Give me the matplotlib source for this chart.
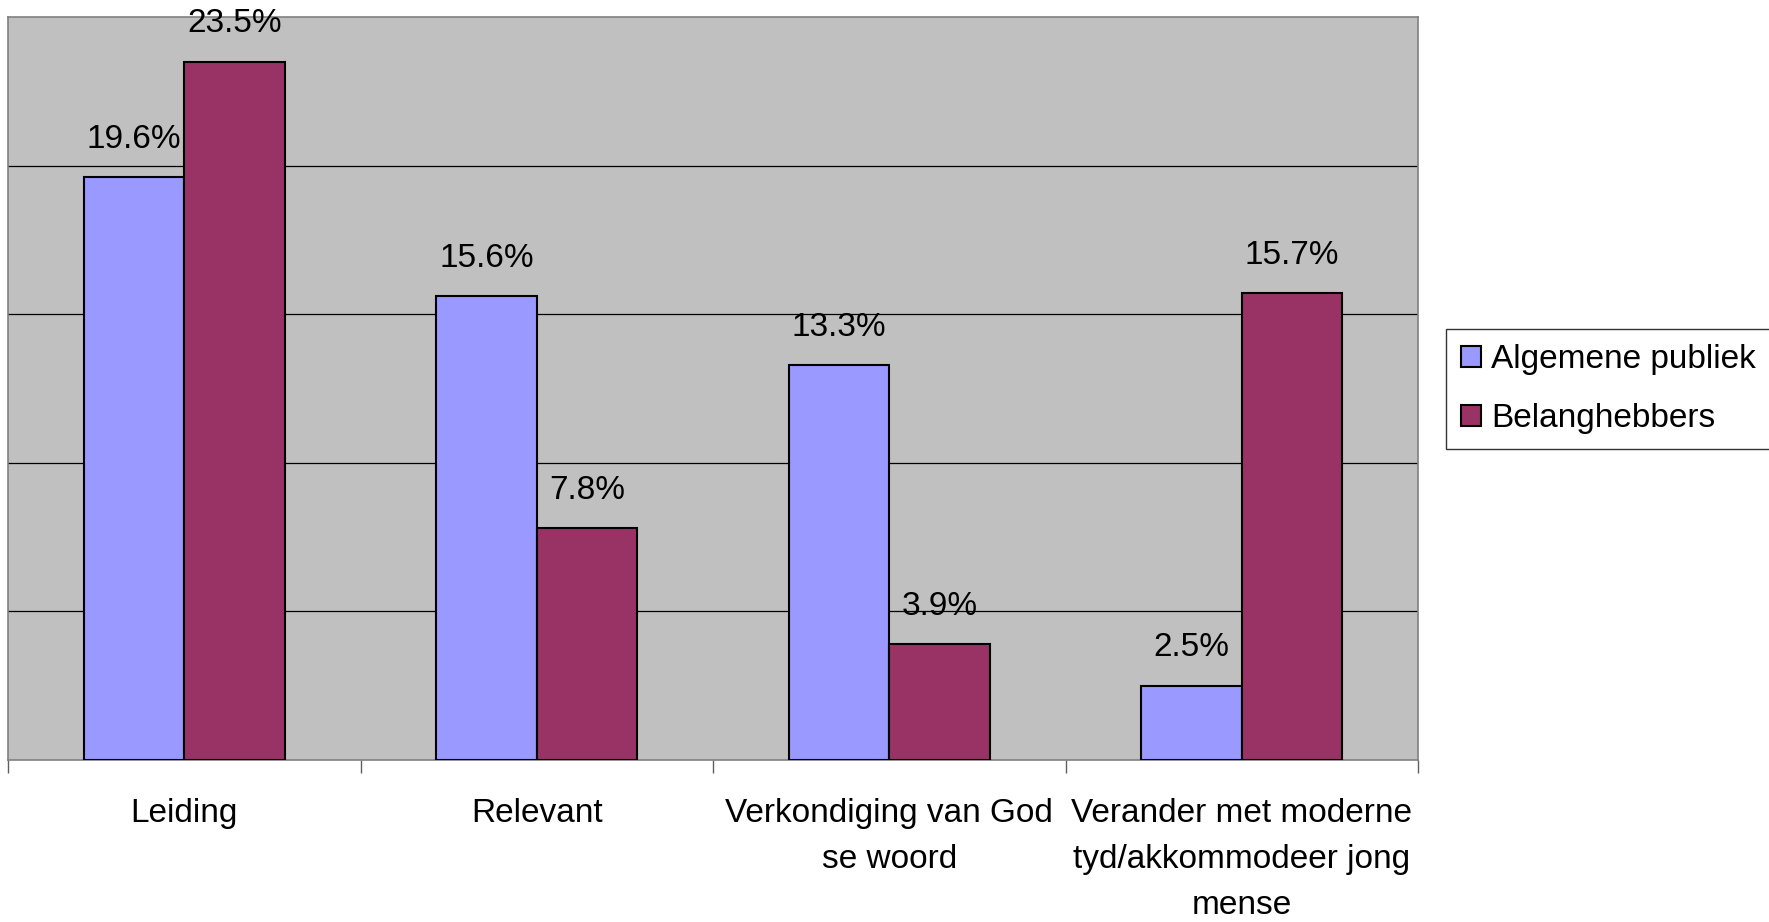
import matplotlib.pyplot as plt
import numpy as np

categories = [
    "Leiding",
    "Relevant",
    "Verkondiging van God\nse woord",
    "Verander met moderne\ntyd/akkommodeer jong\nmense",
]
series_names = ["Algemene publiek", "Belanghebbers"]
algemene = [19.6, 15.6, 13.3, 2.5]
belang = [23.5, 7.8, 3.9, 15.7]

plt.rcParams["font.family"] = ["Liberation Sans", "DejaVu Sans"]

W, H = 1769, 922
fig = plt.figure(figsize=(W / 100, H / 100), dpi=100)
ax = fig.add_axes([8 / W, (H - 760) / H, 1410 / W, 743 / H])
ax.set_facecolor("#C0C0C0")

x = np.arange(len(categories))
w = 1 / 3.5
b1 = ax.bar(x - w / 2, algemene, w, color="#9999FF", edgecolor="black",
            linewidth=1.5, label=series_names[0], zorder=3)
b2 = ax.bar(x + w / 2, belang, w, color="#993366", edgecolor="black",
            linewidth=1.5, label=series_names[1], zorder=3)

for bars, vals in ((b1, algemene), (b2, belang)):
    for r, v in zip(bars, vals):
        ax.annotate(f"{v:.1f}%", (r.get_x() + r.get_width() / 2, v),
                    xytext=(0, 16), textcoords="offset points",
                    ha="center", va="bottom", fontsize=24, zorder=4)

ax.set_xlim(-0.5, len(categories) - 0.5)
ax.set_ylim(0, 25)
ax.set_yticks([5, 10, 15, 20])
ax.yaxis.grid(True, color="black", linewidth=0.9, zorder=1)
ax.tick_params(axis="y", left=False, labelleft=False)

ax.set_xticks(x)
ax.set_xticklabels(categories, fontsize=24, linespacing=1.64)
ax.set_xticks(np.arange(-0.5, len(categories)), minor=True)
ax.tick_params(axis="x", which="major", length=0, pad=27)
ax.tick_params(axis="x", which="minor", length=9, color="#606060", width=1)

for s in ax.spines.values():
    s.set_color("#808080")
    s.set_linewidth(1.2)

leg = ax.legend(loc="center left", bbox_to_anchor=(1446 / W, (H - 389) / H),
                bbox_transform=fig.transFigure, fontsize=24, frameon=True,
                fancybox=False, edgecolor="black", handlelength=0.6,
                handleheight=0.6, handletextpad=0.3, labelspacing=0.85,
                borderpad=0.45, borderaxespad=0)
leg.get_frame().set_linewidth(1)

fig.savefig("out.png", dpi=100)
